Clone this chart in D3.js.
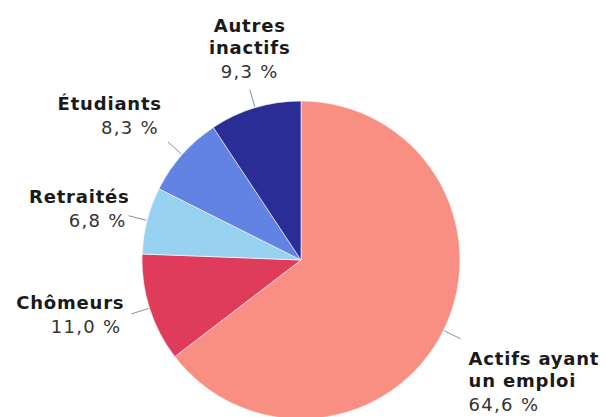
<!DOCTYPE html>
<html>
<head>
<meta charset="utf-8">
<script src="https://cdn.jsdelivr.net/npm/d3@7"></script>
<style>
  html, body { margin: 0; padding: 0; background: #fff; }
  svg { display: block; }
  text { font-family: "DejaVu Sans", Verdana, sans-serif; fill: #1a1a1a; }
</style>
</head>
<body>
<svg id="chart" width="606" height="417"></svg>
<script>
// Population by activity status (share, %)
const categories = ["Actifs ayant un emploi", "Chômeurs", "Retraités", "Étudiants", "Autres inactifs"];
const values = [64.6, 11.0, 6.8, 8.3, 9.3];
const nameLines = [["Actifs ayant", "un emploi"], ["Chômeurs"], ["Retraités"], ["Étudiants"], ["Autres", "inactifs"]];
const colors = ["#F98F83", "#DF3B5B", "#97D3F0", "#6283E4", "#2B2D96"];

const width = 606, height = 417;
const cx = 301, cy = 260, radius = 159;

const svg = d3.select("#chart");
const g = svg.append("g").attr("transform", `translate(${cx},${cy})`);

const data = categories.map((c, i) => ({ name: c, lines: nameLines[i], value: values[i], color: colors[i] }));

const pie = d3.pie().value(d => d.value).sort(null);
const arcs = pie(data);
const arc = d3.arc().innerRadius(0).outerRadius(radius);

g.selectAll("path.slice")
  .data(arcs)
  .join("path")
  .attr("class", "slice")
  .attr("d", arc)
  .attr("fill", d => d.data.color)
  .attr("stroke", "#ffffff")
  .attr("stroke-width", 0.6)
  .attr("stroke-linejoin", "round");

const fmt = v => d3.format(".1f")(v).replace(".", ",") + " %";

// Leader lines: from the rim outwards along the slice's mid angle
const rimArc = d3.arc().innerRadius(radius + 1).outerRadius(radius + 1);
const outArc = d3.arc().innerRadius(radius + 19).outerRadius(radius + 19);

g.selectAll("line.leader")
  .data(arcs)
  .join("line")
  .attr("class", "leader")
  .attr("x1", d => rimArc.centroid(d)[0])
  .attr("y1", d => rimArc.centroid(d)[1])
  .attr("x2", d => outArc.centroid(d)[0])
  .attr("y2", d => outArc.centroid(d)[1])
  .attr("stroke", "#8a8f99")
  .attr("stroke-width", 1);

// Label block placement relative to the leader end
const labelLayout = {
  "Actifs ayant un emploi": { anchor: "start", dx: 8, dy: 26 },
  "Chômeurs": { anchor: "end", dx: -7, dy: -5 },
  "Retraités": { anchor: "end", dx: 1, dy: -13 },
  "Étudiants": { anchor: "end", dx: -6, dy: -32 },
  "Autres inactifs": { anchor: "middle", dx: 0, dy: -58 }
};

const nameStep = 22, valueStep = 24;

arcs.forEach(d => {
  const [ex, ey] = outArc.centroid(d);
  const L = labelLayout[d.data.name];
  const x = ex + L.dx;
  let y = ey + L.dy;
  const t = g.append("text")
    .attr("text-anchor", L.anchor)
    .attr("x", x)
    .attr("y", y);
  d.data.lines.forEach((line, i) => {
    t.append("tspan")
      .attr("x", x)
      .attr("y", y + i * nameStep)
      .attr("font-weight", "bold")
      .attr("font-size", 18)
      .attr("letter-spacing", 0.8)
      .text(line);
  });
  const vy = y + (d.data.lines.length - 1) * nameStep + valueStep;
  t.append("tspan")
    .attr("x", L.anchor === "end" ? x - 3 : x)
    .attr("y", vy)
    .attr("font-size", 18)
    .attr("letter-spacing", 1.3)
    .attr("fill", "#333")
    .text(fmt(d.data.value));
});
</script>
</body>
</html>
